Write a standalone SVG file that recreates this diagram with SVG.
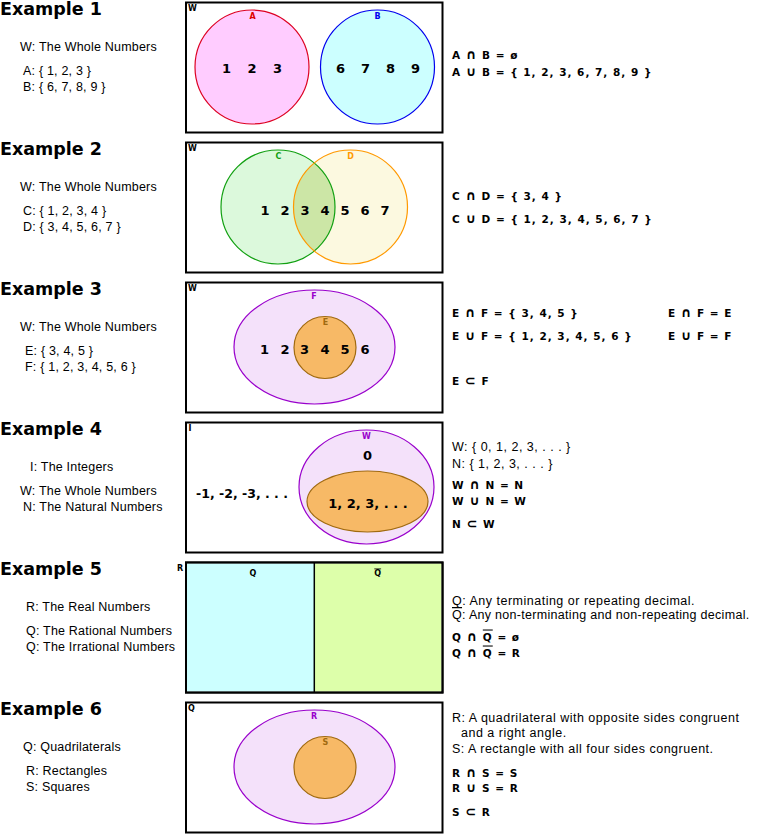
<svg xmlns="http://www.w3.org/2000/svg" width="758" height="835" viewBox="0 0 758 835">
<style>
.title{font-family:"DejaVu Sans",sans-serif;font-weight:bold;font-size:17.5px;fill:#000}
.desc{font-family:"Liberation Sans","DejaVu Sans",sans-serif;font-size:12.5px;letter-spacing:0.2px;fill:#000}
.rdesc{font-family:"Liberation Sans","DejaVu Sans",sans-serif;font-size:12.5px;letter-spacing:0.5px;fill:#000}
.eq{font-family:"DejaVu Sans",sans-serif;font-weight:bold;font-size:10.5px;letter-spacing:1px;fill:#000}
.sym{font-size:13px}
.num{font-family:"DejaVu Sans",sans-serif;font-weight:bold;font-size:13px;fill:#000;text-anchor:middle}
.lbl{font-family:"DejaVu Sans",sans-serif;font-weight:bold;font-size:8px;text-anchor:middle}
.corner{font-family:"DejaVu Sans",sans-serif;font-weight:bold;font-size:8px;fill:#000}
.box{fill:#fff;stroke:#000;stroke-width:2}
.purple{fill:#f4e1fa;stroke:#9900cc;stroke-width:1.2}
.orange{fill:#f7b966;stroke:#a06a10;stroke-width:1.2}
</style>
<rect width="758" height="835" fill="#fff"/>

<!-- Example 1 -->
<g id="example1">
  <text class="title" x="0" y="15">Example 1</text>
  <text class="desc" x="20" y="51">W: The Whole Numbers</text>
  <text class="desc" x="23" y="75">A: { 1, 2, 3 }</text>
  <text class="desc" x="23" y="91">B: { 6, 7, 8, 9 }</text>
  <g id="ex1-W">
    <rect class="box" x="186" y="2.5" width="256.5" height="130"/>
    <text class="corner" x="188" y="11">W</text>
  </g>
  <g id="ex1-A">
    <circle cx="252" cy="67" r="57" fill="#ffccff" stroke="#dd0022" stroke-width="1.2"/>
    <text class="lbl" x="252.5" y="18.5" fill="#dd0000">A</text>
    <text class="num" x="226.5" y="73">1</text>
    <text class="num" x="252" y="73">2</text>
    <text class="num" x="277.5" y="73">3</text>
  </g>
  <g id="ex1-B">
    <circle cx="377.5" cy="67" r="57" fill="#ccffff" stroke="#0000ee" stroke-width="1.2"/>
    <text class="lbl" x="377.5" y="18.5" fill="#0000ee">B</text>
    <text class="num" x="340.5" y="73">6</text>
    <text class="num" x="365.5" y="73">7</text>
    <text class="num" x="390.5" y="73">8</text>
    <text class="num" x="415.5" y="73">9</text>
  </g>
  <text class="eq" x="452" y="59">A <tspan class="sym">∩</tspan> B = ø</text>
  <text class="eq" x="452" y="76">A <tspan class="sym">∪</tspan> B = { 1, 2, 3, 6, 7, 8, 9 }</text>
</g>

<!-- Example 2 -->
<g id="example2">
  <text class="title" x="0" y="155">Example 2</text>
  <text class="desc" x="20" y="191">W: The Whole Numbers</text>
  <text class="desc" x="23" y="215">C: { 1, 2, 3, 4 }</text>
  <text class="desc" x="23" y="231">D: { 3, 4, 5, 6, 7 }</text>
  <g id="ex2-W">
    <rect class="box" x="186" y="142.5" width="256.5" height="130"/>
    <text class="corner" x="188" y="151">W</text>
  </g>
  <g id="ex2-C">
    <circle cx="278" cy="207" r="57" fill="#dcf9dc"/>
  </g>
  <g id="ex2-D">
    <circle cx="350.5" cy="207" r="57" fill="#fcf9e0"/>
  </g>
  <path d="M314.25 163 A57 57 0 0 1 314.25 251 A57 57 0 0 1 314.25 163 Z" fill="#cce6a6"/>
  <circle cx="278" cy="207" r="57" fill="none" stroke="#11a011" stroke-width="1.2"/>
  <circle cx="350.5" cy="207" r="57" fill="none" stroke="#ff9900" stroke-width="1.2"/>
  <text class="lbl" x="278.5" y="158.5" fill="#11a011">C</text>
  <text class="lbl" x="350.5" y="158.5" fill="#ff9900">D</text>
  <text class="num" x="265" y="215">1</text>
  <text class="num" x="285" y="215">2</text>
  <text class="num" x="305" y="215">3</text>
  <text class="num" x="325" y="215">4</text>
  <text class="num" x="345" y="215">5</text>
  <text class="num" x="365" y="215">6</text>
  <text class="num" x="385" y="215">7</text>
  <text class="eq" x="452" y="199.5">C <tspan class="sym">∩</tspan> D = { 3, 4 }</text>
  <text class="eq" x="452" y="222.5">C <tspan class="sym">∪</tspan> D = { 1, 2, 3, 4, 5, 6, 7 }</text>
</g>

<!-- Example 3 -->
<g id="example3">
  <text class="title" x="0" y="295">Example 3</text>
  <text class="desc" x="20" y="331">W: The Whole Numbers</text>
  <text class="desc" x="25" y="355">E: { 3, 4, 5 }</text>
  <text class="desc" x="25" y="371">F: { 1, 2, 3, 4, 5, 6 }</text>
  <g id="ex3-W">
    <rect class="box" x="186" y="282.5" width="256.5" height="130"/>
    <text class="corner" x="188" y="291">W</text>
  </g>
  <g id="ex3-F">
    <ellipse class="purple" cx="314.5" cy="347" rx="80.5" ry="57"/>
    <text class="lbl" x="314" y="298.5" fill="#9900cc">F</text>
  </g>
  <g id="ex3-E">
    <circle class="orange" cx="325" cy="347.5" r="31"/>
    <text class="lbl" x="325.5" y="325" fill="#a06a10">E</text>
  </g>
  <text class="num" x="264.5" y="354">1</text>
  <text class="num" x="285" y="354">2</text>
  <text class="num" x="304.5" y="354">3</text>
  <text class="num" x="325" y="354">4</text>
  <text class="num" x="345" y="354">5</text>
  <text class="num" x="365" y="354">6</text>
  <text class="eq" x="452" y="317">E <tspan class="sym">∩</tspan> F = { 3, 4, 5 }</text>
  <text class="eq" x="452" y="339.5">E <tspan class="sym">∪</tspan> F = { 1, 2, 3, 4, 5, 6 }</text>
  <text class="eq" x="668" y="317">E <tspan class="sym">∩</tspan> F = E</text>
  <text class="eq" x="668" y="339.5">E <tspan class="sym">∪</tspan> F = F</text>
  <text class="eq" x="452" y="384.5">E <tspan class="sym">⊂</tspan> F</text>
</g>

<!-- Example 4 -->
<g id="example4">
  <text class="title" x="0" y="435">Example 4</text>
  <text class="desc" x="30" y="471">I: The Integers</text>
  <text class="desc" x="20" y="495">W: The Whole Numbers</text>
  <text class="desc" x="23" y="511">N: The Natural Numbers</text>
  <g id="ex4-I">
    <rect class="box" x="186" y="422.5" width="256.5" height="130"/>
    <text class="corner" x="188.5" y="431">I</text>
    <text class="num" x="242" y="498" style="font-size:12.5px">-1, -2, -3, . . .</text>
  </g>
  <g id="ex4-W">
    <ellipse class="purple" cx="366.5" cy="487" rx="67.5" ry="57"/>
    <text class="lbl" x="366.5" y="438.5" fill="#9900cc">W</text>
    <text class="num" x="367.5" y="459.5">0</text>
  </g>
  <g id="ex4-N">
    <ellipse class="orange" cx="367.5" cy="501.5" rx="60.5" ry="30.5"/>
    <text class="num" x="368" y="507.5">1, 2, 3, . . .</text>
  </g>
  <text class="rdesc" x="452" y="450.5">W: { 0, 1, 2, 3, . . . }</text>
  <text class="rdesc" x="452" y="467.5">N: { 1, 2, 3, . . . }</text>
  <text class="eq" x="452" y="489">W <tspan class="sym">∩</tspan> N = N</text>
  <text class="eq" x="452" y="504.5">W <tspan class="sym">∪</tspan> N = W</text>
  <text class="eq" x="452" y="528">N <tspan class="sym">⊂</tspan> W</text>
</g>

<!-- Example 5 -->
<g id="example5">
  <text class="title" x="0" y="575">Example 5</text>
  <text class="desc" x="26" y="611">R: The Real Numbers</text>
  <text class="desc" x="26" y="635">Q: The Rational Numbers</text>
  <text class="desc" x="26" y="651">Q: The Irrational Numbers</text>
  <g id="ex5-R">
    <rect class="box" x="186" y="562.5" width="256.5" height="130"/>
    <text class="corner" x="177" y="571">R</text>
  </g>
  <g id="ex5-Q">
    <rect x="187" y="563.5" width="127.3" height="128" fill="#ccffff"/>
    <text class="lbl" x="253" y="575.5" fill="#000">Q</text>
  </g>
  <g id="ex5-Qbar">
    <rect x="314.3" y="563.5" width="127.2" height="128" fill="#ddffaa"/>
    <text class="lbl" x="377.7" y="575.5" fill="#000" text-decoration="overline">Q</text>
  </g>
  <line x1="314.3" y1="563" x2="314.3" y2="692" stroke="#000" stroke-width="1.5"/>
  <rect x="186" y="562.5" width="256.5" height="130" fill="none" stroke="#000" stroke-width="2"/>
  <text class="rdesc" x="452" y="604.5">Q: Any terminating or repeating decimal.</text>
  <text class="rdesc" x="452" y="619" style="letter-spacing:0.3px"><tspan text-decoration="overline">Q</tspan>: Any non-terminating and non-repeating decimal.</text>
  <text class="eq" x="452" y="640.5">Q <tspan class="sym">∩</tspan> <tspan text-decoration="overline">Q</tspan> = ø</text>
  <text class="eq" x="452" y="656.5">Q <tspan class="sym">∩</tspan> <tspan text-decoration="overline">Q</tspan> = R</text>
</g>

<!-- Example 6 -->
<g id="example6">
  <text class="title" x="0" y="715">Example 6</text>
  <text class="desc" x="23" y="751">Q: Quadrilaterals</text>
  <text class="desc" x="26" y="775">R: Rectangles</text>
  <text class="desc" x="26" y="791">S: Squares</text>
  <g id="ex6-Q">
    <rect class="box" x="186" y="702.5" width="256.5" height="130"/>
    <text class="corner" x="188" y="711">Q</text>
  </g>
  <g id="ex6-R">
    <ellipse class="purple" cx="314.5" cy="767" rx="80.5" ry="57"/>
    <text class="lbl" x="314" y="718.5" fill="#9900cc">R</text>
  </g>
  <g id="ex6-S">
    <circle class="orange" cx="325" cy="767.5" r="31"/>
    <text class="lbl" x="325.5" y="744.5" fill="#a06a10">S</text>
  </g>
  <text class="rdesc" x="452" y="722">R: A quadrilateral with opposite sides congruent</text>
  <text class="rdesc" x="461" y="737">and a right angle.</text>
  <text class="rdesc" x="452" y="753">S: A rectangle with all four sides congruent.</text>
  <text class="eq" x="452" y="776.5">R <tspan class="sym">∩</tspan> S = S</text>
  <text class="eq" x="452" y="792">R <tspan class="sym">∪</tspan> S = R</text>
  <text class="eq" x="452" y="816">S <tspan class="sym">⊂</tspan> R</text>
</g>
</svg>
